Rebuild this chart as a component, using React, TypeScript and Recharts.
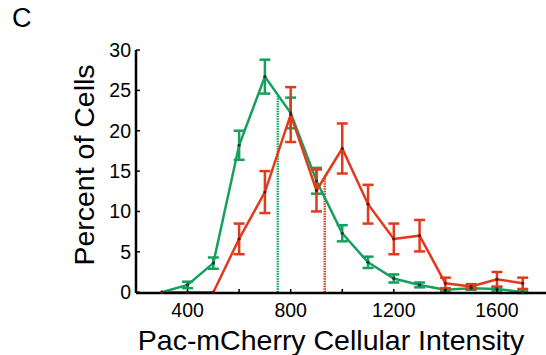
import { ComposedChart, Line, XAxis, YAxis, ErrorBar, ReferenceLine, Label } from "recharts";

// bin centres of the cellular intensity histogram
const intensity = [300, 400, 500, 600, 700, 800, 900, 1000, 1100, 1200, 1300, 1400, 1500, 1600, 1700];

const green = [0, 0.9, 3.6, 18.2, 26.7, 22.2, 13.8, 7.3, 3.7, 1.7, 0.9, 0.3, 0.5, 0.4, 0.0];
const greenErr = [0, 0.4, 0.7, 1.8, 2.1, 1.9, 1.6, 1.0, 0.7, 0.5, 0.3, 0.2, 0.2, 0.2, 0.1];
const red = [0, 0, 0, 6.6, 12.4, 22.0, 12.6, 17.8, 10.9, 6.6, 7.0, 1.1, 0.7, 1.6, 1.1];
const redErr = [0, 0, 0, 1.9, 2.6, 3.4, 2.6, 3.1, 2.4, 1.9, 1.95, 0.7, 0.3, 0.9, 0.7];

// medians (dotted markers) and where they meet their curve
const greenMedian = 750;
const greenMedianTop = 24.4;
const redMedian = 932;
const redMedianTop = 14.3;

const xTicks = [400, 600, 800, 1000, 1200, 1400, 1600];
const xLabels = [400, 800, 1200, 1600];
const yTicks = [0, 5, 10, 15, 20, 25, 30];

const GREEN = "#17a05d";
const RED = "#e2391d";
const FONT = "'Liberation Sans', Arial, sans-serif";

const data = intensity.map((x, i) => ({
    x,
    green: green[i],
    greenErr: greenErr[i],
    red: red[i],
    redErr: redErr[i],
}));

function BottomTick({ x, y, payload }: any) {
    const show = xLabels.includes(payload.value);
    return (
        <g>
            <line x1={x} y1={y} x2={x} y2={y - 4} stroke="#000" strokeWidth={1.5} />
            {show && (
                <text x={x} y={y + 24} textAnchor="middle" fontSize={19.5} fontFamily={FONT} fill="#000">
                    {payload.value}
                </text>
            )}
        </g>
    );
}

function TopTick({ x, y }: any) {
    return <line x1={x} y1={y} x2={x} y2={y + 4} stroke="#000" strokeWidth={1.5} />;
}

function LeftTick({ x, y, payload }: any) {
    return (
        <g>
            <line x1={x} y1={y} x2={x + 4} y2={y} stroke="#000" strokeWidth={1.5} />
            <text x={x - 5} y={y + 7} textAnchor="end" fontSize={19.5} fontFamily={FONT} fill="#000">
                {payload.value}
            </text>
        </g>
    );
}

export default function App() {
    return (
        <div style={{ position: "absolute", left: 0, top: 0, width: 546, height: 355, overflow: "hidden", background: "#fff" }}>
            <div style={{ position: "absolute", left: 12, top: 3, fontFamily: FONT, fontSize: 27, color: "#000" }}>C</div>
            <ComposedChart width={560} height={355} data={data} margin={{ top: 50, right: 11.5, left: 0, bottom: 0 }}>
                <XAxis
                    dataKey="x"
                    type="number"
                    domain={[200, 1800]}
                    ticks={xTicks}
                    tick={<BottomTick />}
                    tickLine={false}
                    tickSize={0}
                    tickMargin={0}
                    height={62}
                    axisLine={{ stroke: "#000", strokeWidth: 2.5 }}
                >
                    <Label
                        content={() => (
                            <text x={331} y={350} textAnchor="middle" fontSize={28.5} fontFamily={FONT} fill="#000">
                                Pac-mCherry Cellular Intensity
                            </text>
                        )}
                    />
                </XAxis>
                <XAxis
                    xAxisId="top"
                    orientation="top"
                    dataKey="x"
                    type="number"
                    domain={[200, 1800]}
                    ticks={xTicks}
                    tick={<TopTick />}
                    tickLine={false}
                    tickSize={0}
                    tickMargin={0}
                    height={0}
                    axisLine={{ stroke: "#000", strokeWidth: 2.5 }}
                />
                <YAxis
                    type="number"
                    domain={[0, 30]}
                    ticks={yTicks}
                    tick={<LeftTick />}
                    tickLine={false}
                    tickSize={0}
                    tickMargin={0}
                    width={136}
                    axisLine={{ stroke: "#000", strokeWidth: 2.5 }}
                >
                    <Label
                        content={() => (
                            <text
                                x={94}
                                y={165}
                                transform="rotate(-90 94 165)"
                                textAnchor="middle"
                                fontSize={28.5}
                                fontFamily={FONT}
                                fill="#000"
                            >
                                Percent of Cells
                            </text>
                        )}
                    />
                </YAxis>
                <ReferenceLine
                    segment={[{ x: greenMedian, y: 0 }, { x: greenMedian, y: greenMedianTop }]}
                    stroke={GREEN}
                    strokeWidth={2.5}
                    strokeDasharray="1.5 1"
                />
                <ReferenceLine
                    segment={[{ x: redMedian, y: 0 }, { x: redMedian, y: redMedianTop }]}
                    stroke={RED}
                    strokeWidth={2.5}
                    strokeDasharray="1.5 1"
                />
                <Line
                    dataKey="green"
                    stroke={GREEN}
                    strokeWidth={2.5}
                    dot={{ r: 1.6, fill: "#1d3b2b", stroke: "none" }}
                    activeDot={false}
                    isAnimationActive={false}
                >
                    <ErrorBar dataKey="greenErr" direction="y" width={5.5} stroke={GREEN} strokeWidth={2.5} />
                </Line>
                <Line
                    dataKey="red"
                    stroke={RED}
                    strokeWidth={2.5}
                    dot={{ r: 1.6, fill: "#5a1a10", stroke: "none" }}
                    activeDot={false}
                    isAnimationActive={false}
                >
                    <ErrorBar dataKey="redErr" direction="y" width={5.5} stroke={RED} strokeWidth={2.5} />
                </Line>
            </ComposedChart>
        </div>
    );
}
